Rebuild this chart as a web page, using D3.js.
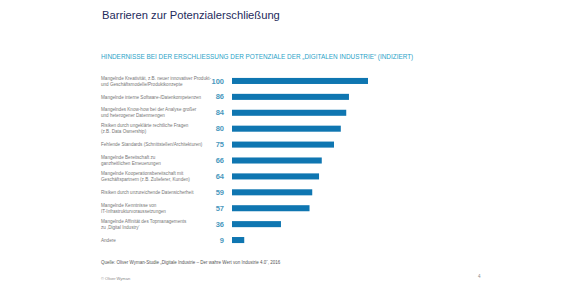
<!DOCTYPE html>
<html>
<head>
<meta charset="utf-8">
<script src="https://cdn.jsdelivr.net/npm/d3@7"></script>
<style>
  body { margin: 0; background: #fff; }
  svg { font-family: Arial, "Liberation Sans", sans-serif; }
</style>
</head>
<body>
<svg width="583" height="281"></svg>
<script>
const labels = [
  ["Mangelnde Kreativität, z.B. neuer innovativer Produkt-", "und Geschäftsmodelle/Produktkonzepte"],
  ["Mangelnde interne Software-/Datenkompetenzen"],
  ["Mangelndes Know-how bei der Analyse großer", "und heterogener Datenmengen"],
  ["Risiken durch ungeklärte rechtliche Fragen", "(z.B. Data Ownership)"],
  ["Fehlende Standards (Schnittstellen/Architekturen)"],
  ["Mangelnde Bereitschaft zu", "ganzheitlichen Erneuerungen"],
  ["Mangelnde Kooperationsbereitschaft mit", "Geschäftspartnern (z.B. Zulieferer, Kunden)"],
  ["Risiken durch unzureichende Datensicherheit"],
  ["Mangelnde Kenntnisse von", "IT-Infrastrukturvoraussetzungen"],
  ["Mangelnde Affinität des Topmanagements", "zu ‚Digital Industry‘"],
  ["Andere"]
];
const values = [100, 86, 84, 80, 75, 66, 64, 59, 57, 36, 9];

const svg = d3.select("svg");

// header
svg.append("text")
  .attr("x", 102).attr("y", 19)
  .attr("font-size", 11.2)
  .attr("fill", "#1e2b5c")
  .text("Barrieren zur Potenzialerschließung");

svg.append("text")
  .attr("x", 101).attr("y", 58.5)
  .attr("font-size", 6.4)
  .attr("fill", "#2aa3c8")
  .text("HINDERNISSE BEI DER ERSCHLIESSUNG DER POTENZIALE DER „DIGITALEN INDUSTRIE“ (INDIZIERT)");

const x = d3.scaleLinear().domain([0, 100]).range([232, 368]);
const y = d3.scaleBand().domain(d3.range(values.length)).range([73, 248]).paddingInner(0.62).paddingOuter(0.31);

const row = svg.append("g").selectAll("g")
  .data(values)
  .enter().append("g");

row.append("rect")
  .attr("x", x(0))
  .attr("y", (d, i) => y(i))
  .attr("width", d => x(d) - x(0))
  .attr("height", y.bandwidth())
  .attr("fill", "#0f76b1");

row.append("text")
  .attr("x", 224)
  .attr("y", (d, i) => y(i) + y.bandwidth() / 2 + 2.6)
  .attr("text-anchor", "end")
  .attr("font-size", 7.5)
  .attr("font-weight", "bold")
  .attr("fill", "#4a98bd")
  .text(d => d);

row.append("text")
  .attr("x", 101)
  .attr("y", (d, i) => y(i) + y.bandwidth() / 2 + 1.7 - (labels[i].length - 1) * 3)
  .attr("font-size", 4.6)
  .attr("fill", "#777")
  .each(function(d, i) {
    const t = d3.select(this);
    labels[i].forEach((line, k) => {
      t.append("tspan").attr("x", 101).attr("dy", k === 0 ? 0 : 6).text(line);
    });
  });

// footer
svg.append("text")
  .attr("x", 101).attr("y", 264)
  .attr("font-size", 4.5)
  .attr("fill", "#555")
  .text("Quelle: Oliver Wyman-Studie „Digitale Industrie – Der wahre Wert von Industrie 4.0“, 2016");

svg.append("text")
  .attr("x", 101).attr("y", 280)
  .attr("font-size", 4)
  .attr("fill", "#888")
  .text("© Oliver Wyman");

svg.append("text")
  .attr("x", 478).attr("y", 278)
  .attr("font-size", 4.5)
  .attr("fill", "#888")
  .text("4");
</script>
</body>
</html>
